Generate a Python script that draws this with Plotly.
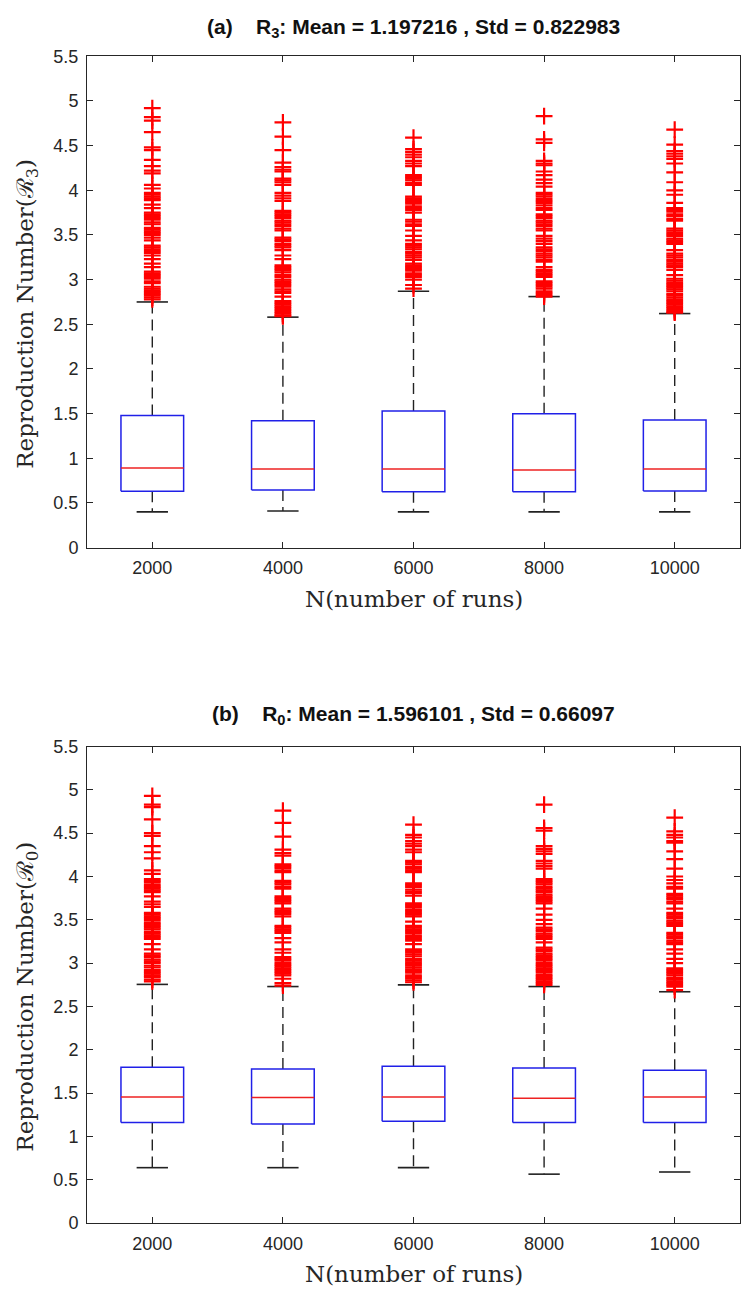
import plotly.graph_objects as go

# ---------------- data ----------------
runs = ["2000", "4000", "6000", "8000", "10000"]

# panel (a): R3
r3_q1 = [0.63, 0.645, 0.625, 0.625, 0.635]
r3_med = [0.89, 0.88, 0.88, 0.87, 0.88]
r3_q3 = [1.48, 1.42, 1.53, 1.50, 1.43]
r3_low = [0.40, 0.41, 0.40, 0.40, 0.40]
r3_high = [2.75, 2.58, 2.87, 2.81, 2.62]
r3_out_2000 = [4.92, 4.82, 4.78, 4.65, 4.48, 4.45, 4.34, 4.27, 4.22, 4.19, 4.06, 4.02, 3.97, 3.95,
               3.93, 3.91, 3.89, 3.84, 3.80, 3.75, 3.73, 3.71, 3.69, 3.67, 3.64, 3.62, 3.58, 3.56,
               3.54, 3.52, 3.50, 3.47, 3.44, 3.38, 3.36, 3.34, 3.32, 3.30, 3.27, 3.23, 3.18, 3.14,
               3.09, 3.07, 3.05, 3.03, 3.01, 2.98, 2.96, 2.92, 2.90, 2.88, 2.86, 2.84, 2.82, 2.80, 2.78]
r3_out_4000 = [4.76, 4.60, 4.45, 4.31, 4.26, 4.23, 4.21, 4.13, 4.11, 4.09, 4.06, 3.97, 3.94, 3.91,
               3.88, 3.77, 3.75, 3.73, 3.71, 3.69, 3.66, 3.64, 3.62, 3.60, 3.57, 3.55, 3.47, 3.45,
               3.43, 3.40, 3.38, 3.36, 3.33, 3.27, 3.23, 3.16, 3.14, 3.12, 3.10, 3.08, 3.05, 3.03,
               3.00, 2.98, 2.96, 2.94, 2.92, 2.89, 2.87, 2.85, 2.81, 2.76, 2.74, 2.72, 2.70, 2.68,
               2.66, 2.64, 2.62, 2.60, 2.59]
r3_out_6000 = [4.59, 4.46, 4.43, 4.40, 4.37, 4.33, 4.30, 4.27, 4.17, 4.15, 4.13, 4.11, 4.08, 4.06,
               3.93, 3.91, 3.89, 3.87, 3.85, 3.82, 3.80, 3.78, 3.75, 3.67, 3.65, 3.62, 3.60, 3.55,
               3.49, 3.44, 3.40, 3.38, 3.36, 3.34, 3.31, 3.29, 3.27, 3.25, 3.22, 3.18, 3.16, 3.14,
               3.12, 3.10, 3.07, 3.05, 3.03, 3.00, 2.94, 2.90]
r3_out_8000 = [4.83, 4.57, 4.53, 4.33, 4.30, 4.28, 4.21, 4.17, 4.12, 4.08, 4.04, 3.97, 3.95, 3.93,
               3.90, 3.88, 3.86, 3.83, 3.80, 3.78, 3.73, 3.71, 3.69, 3.66, 3.64, 3.62, 3.60, 3.57,
               3.55, 3.49, 3.46, 3.43, 3.40, 3.36, 3.34, 3.32, 3.29, 3.27, 3.25, 3.22, 3.20, 3.14,
               3.11, 3.09, 3.07, 3.05, 3.03, 2.98, 2.96, 2.94, 2.92, 2.90, 2.87, 2.85, 2.83, 2.81]
r3_out_10000 = [4.68, 4.51, 4.44, 4.41, 4.38, 4.35, 4.30, 4.20, 4.09, 4.00, 3.95, 3.86, 3.80, 3.78,
                3.76, 3.73, 3.71, 3.68, 3.66, 3.57, 3.55, 3.53, 3.51, 3.49, 3.46, 3.44, 3.42, 3.40,
                3.33, 3.29, 3.27, 3.25, 3.22, 3.20, 3.18, 3.16, 3.14, 3.11, 3.05, 3.01, 2.99, 2.97,
                2.95, 2.93, 2.91, 2.89, 2.87, 2.84, 2.82, 2.80, 2.78, 2.76, 2.74, 2.72, 2.70, 2.68,
                2.66, 2.64, 2.63]

# panel (b): R0
r0_q1 = [1.16, 1.145, 1.175, 1.16, 1.16]
r0_med = [1.455, 1.45, 1.455, 1.44, 1.455]
r0_q3 = [1.80, 1.78, 1.81, 1.79, 1.765]
r0_low = [0.64, 0.64, 0.64, 0.565, 0.59]
r0_high = [2.755, 2.73, 2.75, 2.73, 2.67]
r0_out_2000 = [4.93, 4.83, 4.80, 4.66, 4.50, 4.47, 4.35, 4.28, 4.21, 4.07, 4.03, 3.97, 3.95, 3.93,
               3.90, 3.88, 3.86, 3.84, 3.82, 3.77, 3.71, 3.68, 3.65, 3.58, 3.56, 3.54, 3.52, 3.50,
               3.47, 3.45, 3.43, 3.41, 3.39, 3.36, 3.34, 3.32, 3.30, 3.28, 3.22, 3.16, 3.11, 3.09,
               3.07, 3.04, 3.02, 3.00, 2.97, 2.95, 2.92, 2.90, 2.88, 2.86, 2.84, 2.81, 2.79]
r0_out_4000 = [4.76, 4.62, 4.46, 4.31, 4.27, 4.24, 4.14, 4.12, 4.10, 4.07, 4.05, 3.95, 3.93, 3.91,
               3.88, 3.86, 3.77, 3.75, 3.73, 3.71, 3.69, 3.63, 3.61, 3.59, 3.57, 3.54, 3.43, 3.41,
               3.39, 3.37, 3.35, 3.29, 3.24, 3.16, 3.12, 3.07, 3.05, 3.03, 3.00, 2.98, 2.96, 2.94,
               2.92, 2.90, 2.88, 2.86, 2.82, 2.77, 2.74]
r0_out_6000 = [4.60, 4.48, 4.45, 4.41, 4.38, 4.35, 4.31, 4.28, 4.18, 4.16, 4.14, 4.11, 4.09, 4.07,
               4.05, 3.92, 3.90, 3.88, 3.85, 3.83, 3.81, 3.78, 3.69, 3.67, 3.65, 3.62, 3.60, 3.58,
               3.56, 3.54, 3.48, 3.43, 3.41, 3.39, 3.37, 3.35, 3.32, 3.30, 3.28, 3.26, 3.22, 3.16,
               3.14, 3.12, 3.10, 3.08, 3.05, 3.03, 3.01, 2.99, 2.97, 2.95, 2.93, 2.91, 2.89, 2.86,
               2.84, 2.82, 2.80, 2.78]
r0_out_8000 = [4.83, 4.56, 4.53, 4.35, 4.32, 4.29, 4.26, 4.18, 4.15, 4.12, 4.09, 3.97, 3.95, 3.93,
               3.91, 3.88, 3.86, 3.84, 3.82, 3.79, 3.77, 3.75, 3.73, 3.71, 3.69, 3.63, 3.56, 3.50,
               3.45, 3.41, 3.39, 3.37, 3.34, 3.32, 3.30, 3.28, 3.24, 3.18, 3.16, 3.14, 3.11, 3.09,
               3.07, 3.05, 3.03, 3.00, 2.98, 2.96, 2.94, 2.92, 2.90, 2.87, 2.85, 2.83, 2.81, 2.79,
               2.77, 2.75]
r0_out_10000 = [4.68, 4.52, 4.48, 4.45, 4.41, 4.39, 4.29, 4.20, 4.09, 4.00, 3.96, 3.92, 3.88, 3.86,
                3.80, 3.78, 3.76, 3.74, 3.71, 3.69, 3.63, 3.58, 3.56, 3.54, 3.52, 3.49, 3.47, 3.45,
                3.43, 3.35, 3.33, 3.31, 3.29, 3.26, 3.24, 3.22, 3.16, 3.11, 3.05, 3.00, 2.94, 2.92,
                2.90, 2.88, 2.86, 2.83, 2.81, 2.79, 2.77, 2.75, 2.73, 2.69]

y_ticks = [0, 0.5, 1, 1.5, 2, 2.5, 3, 3.5, 4, 4.5, 5, 5.5]
y_ticktext = ["0", "0.5", "1", "1.5", "2", "2.5", "3", "3.5", "4", "4.5", "5", "5.5"]

titles = ["<b>(a)    R<sub>3</sub>: Mean = 1.197216 , Std = 0.822983</b>",
          "<b>(b)    R<sub>0</sub>: Mean = 1.596101 , Std = 0.66097</b>"]
ylabels = ["Reproduction Number(\u211b<sub>3</sub>)", "Reproduction Number(\u211b<sub>0</sub>)"]
xlabel = "N(number of runs)"

panels = [
    dict(q1=r3_q1, med=r3_med, q3=r3_q3, low=r3_low, high=r3_high,
         out=[r3_out_2000, r3_out_4000, r3_out_6000, r3_out_8000, r3_out_10000]),
    dict(q1=r0_q1, med=r0_med, q3=r0_q3, low=r0_low, high=r0_high,
         out=[r0_out_2000, r0_out_4000, r0_out_6000, r0_out_8000, r0_out_10000]),
]

# ---------------- layout geometry (pixels) ----------------
W, H = 742, 1305
ML, MR = 87, 2
plot_rows = [(47, 546), (748, 1232)]   # top / bottom pixel rows of each axes box


def fy(py):
    return 1 - py / H


def fx(px):
    return (px - ML) / (W - ML - MR)


BOX_HW = 0.24     # half width of the box
CAP_HW = 0.12     # half width of whisker caps
TICK_FONT = dict(family="Liberation Sans, Arial", size=18, color="#262626")
SERIF = "DejaVu Serif, Liberation Serif, serif"

fig = go.Figure()

for k, p in enumerate(panels):
    xa = "x" if k == 0 else "x2"
    ya = "y" if k == 0 else "y2"
    wx, wy, cx, cy, bx, by, mx, my, ox, oy = [], [], [], [], [], [], [], [], [], []
    for i in range(len(runs)):
        x = i + 1
        # whiskers
        wx += [x, x, None, x, x, None]
        wy += [p["q3"][i], p["high"][i], None, p["q1"][i], p["low"][i], None]
        # caps
        cx += [x - CAP_HW, x + CAP_HW, None, x - CAP_HW, x + CAP_HW, None]
        cy += [p["high"][i], p["high"][i], None, p["low"][i], p["low"][i], None]
        # box
        bx += [x - BOX_HW, x + BOX_HW, x + BOX_HW, x - BOX_HW, x - BOX_HW, None]
        by += [p["q1"][i], p["q1"][i], p["q3"][i], p["q3"][i], p["q1"][i], None]
        # median
        mx += [x - BOX_HW, x + BOX_HW, None]
        my += [p["med"][i], p["med"][i], None]
        # outliers
        ox += [x] * len(p["out"][i])
        oy += p["out"][i]

    fig.add_trace(go.Scatter(x=wx, y=wy, mode="lines", xaxis=xa, yaxis=ya,
                             line=dict(color="#222222", width=1.4, dash="11px,6px"),
                             showlegend=False, hoverinfo="skip"))
    fig.add_trace(go.Scatter(x=cx, y=cy, mode="lines", xaxis=xa, yaxis=ya,
                             line=dict(color="#222222", width=1.6),
                             showlegend=False, hoverinfo="skip"))
    fig.add_trace(go.Scatter(x=bx, y=by, mode="lines", xaxis=xa, yaxis=ya,
                             line=dict(color="#2020e8", width=1.5),
                             showlegend=False, hoverinfo="skip"))
    fig.add_trace(go.Scatter(x=mx, y=my, mode="lines", xaxis=xa, yaxis=ya,
                             line=dict(color="#ee2222", width=1.5),
                             showlegend=False, hoverinfo="skip"))
    fig.add_trace(go.Scatter(x=ox, y=oy, mode="markers", xaxis=xa, yaxis=ya,
                             marker=dict(symbol="cross-thin", size=12,
                                         line=dict(color="#ff0000", width=2.2)),
                             showlegend=False))

axis_common = dict(showline=True, linecolor="#262626", linewidth=1, mirror="ticks",
                   ticks="inside", ticklen=6, tickcolor="#262626", showgrid=False,
                   zeroline=False, tickfont=TICK_FONT)

layout = dict(width=W, height=H, paper_bgcolor="white", plot_bgcolor="white",
              margin=dict(l=ML, r=MR, t=0, b=0), showlegend=False)
for k, (top, bot) in enumerate(plot_rows):
    sx = "" if k == 0 else "2"
    layout["xaxis" + sx] = dict(axis_common, domain=[0, 1], range=[0.5, 5.5],
                                tickvals=[1, 2, 3, 4, 5], ticktext=runs,
                                anchor="y" + sx, ticklabelstandoff=4)
    layout["yaxis" + sx] = dict(axis_common, domain=[fy(bot), fy(top)], range=[0, 5.5],
                                tickvals=y_ticks, ticktext=y_ticktext,
                                anchor="x" + sx, ticklabelstandoff=4)
fig.update_layout(**layout)

ann = []
title_y = [18, 716]
xlabel_y = [598, 1284]
for k, (top, bot) in enumerate(plot_rows):
    ann.append(dict(text=titles[k], x=fx(413), y=fy(title_y[k]), xref="paper", yref="paper",
                    xanchor="center", yanchor="middle", showarrow=False,
                    font=dict(family="Liberation Sans, Arial", size=21, color="#111111")))
    ann.append(dict(text=xlabel, x=fx(414), y=fy(xlabel_y[k]), xref="paper", yref="paper",
                    xanchor="center", yanchor="middle", showarrow=False,
                    font=dict(family=SERIF, size=23, color="#262626")))
    ann.append(dict(text=ylabels[k], x=fx(27), y=fy((top + bot) / 2 + 12), xref="paper",
                    yref="paper", xanchor="center", yanchor="middle", textangle=-90,
                    showarrow=False, font=dict(family=SERIF, size=23, color="#262626")))
fig.update_layout(annotations=ann)

fig.write_html("out.html")
